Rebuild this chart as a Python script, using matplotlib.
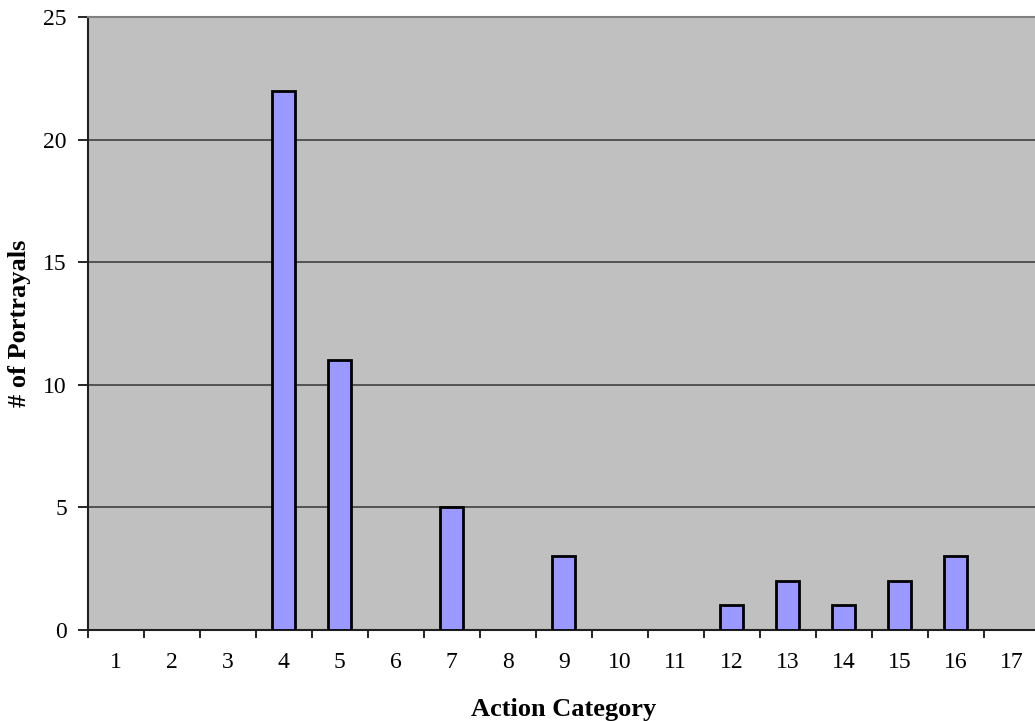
import matplotlib
matplotlib.use("Agg")
import matplotlib.pyplot as plt

# portrayals per action category
categories = list(range(1, 18))
portrayals = [0, 0, 0, 22, 11, 0, 5, 0, 3, 0, 0, 1, 2, 1, 2, 3, 0]
y_ticks = [0, 5, 10, 15, 20, 25]

plt.rcParams["font.family"] = ["Liberation Serif", "DejaVu Serif"]

fig = plt.figure(figsize=(10.35, 7.21), dpi=100)
ax = fig.add_axes([0.0847, 0.1262, 0.9198, 0.8502])
ax.set_facecolor("#c0c0c0")

# empty categories get no bar outline, like the original
shown = [(c, v) for c, v in zip(categories, portrayals) if v > 0]
ax.bar([c for c, _ in shown], [v for _, v in shown], width=0.41,
       color="#9999ff", edgecolor="black", linewidth=2, zorder=3)

ax.set_xlim(0.5, 17.5)
ax.set_ylim(0, 25)
ax.set_yticks(y_ticks)
for y in y_ticks[1:-1]:
    ax.axhline(y, color="#404040", linewidth=1.2, zorder=1)

# category labels centred, tick marks between categories
ax.set_xticks(categories)
ax.set_xticklabels([str(c) for c in categories])
ax.set_xticks([c + 0.5 for c in range(0, 18)], minor=True)
ax.tick_params(axis="x", which="major", length=0, pad=16, labelsize=17)
ax.tick_params(axis="x", which="minor", length=6, width=1.2, direction="out")
ax.tick_params(axis="y", length=7, width=1.2, direction="out", labelsize=17, pad=8)

for side in ("left", "bottom"):
    ax.spines[side].set_color("#202020")
    ax.spines[side].set_linewidth(1.5)
for side in ("top", "right"):
    ax.spines[side].set_color("#808080")
    ax.spines[side].set_linewidth(1.5)

ax.set_xlabel("Action Category", fontsize=19, fontweight="bold", labelpad=18)
ax.set_ylabel("# of Portrayals", fontsize=19, fontweight="bold", labelpad=9)

fig.savefig("out.png", dpi=100)
